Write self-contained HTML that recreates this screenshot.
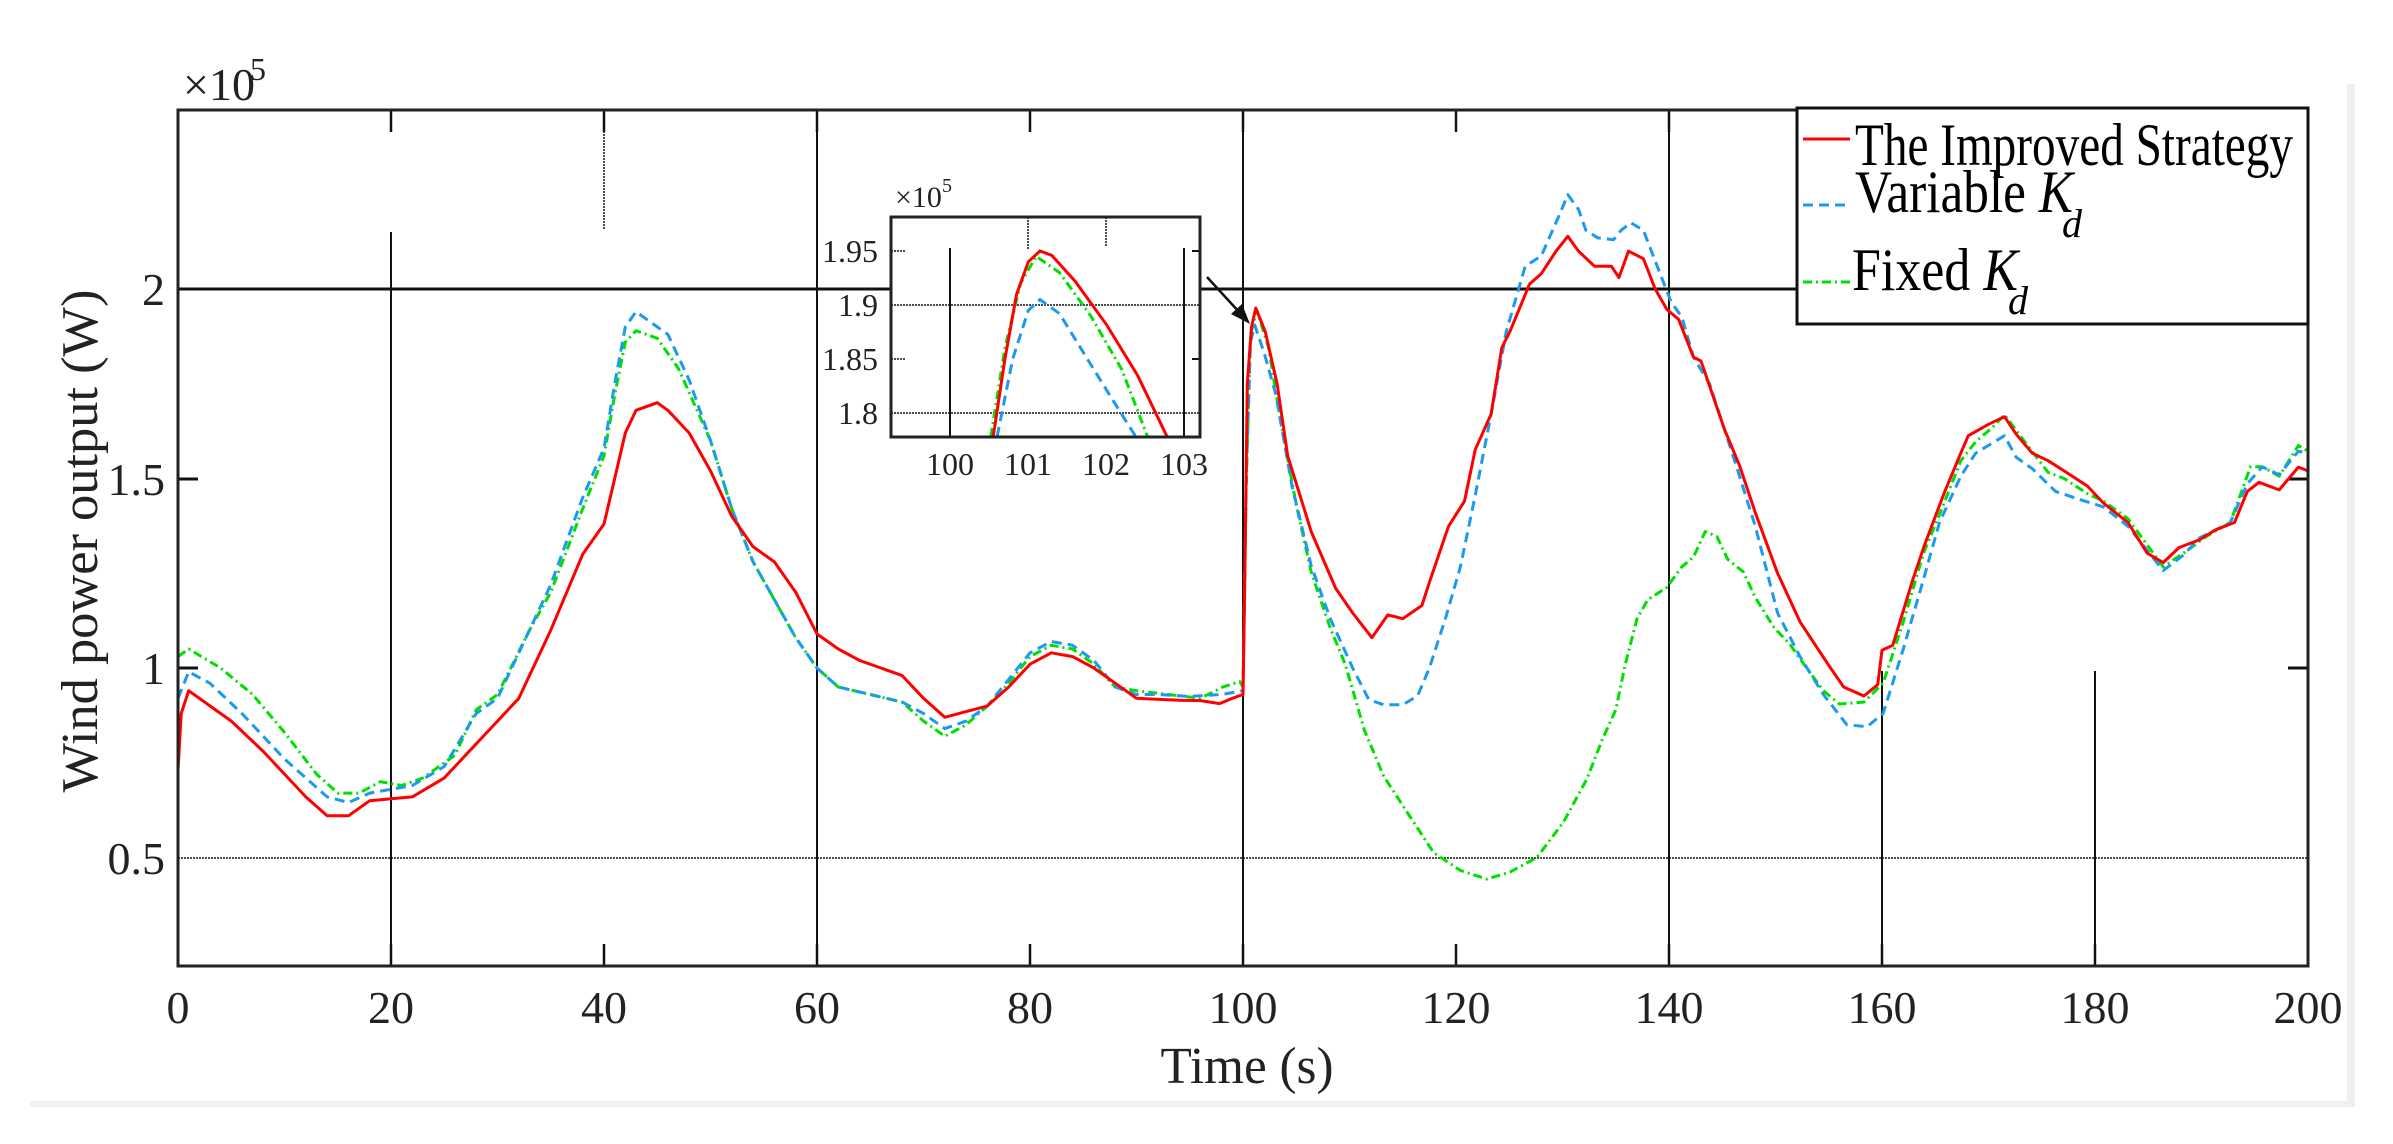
<!DOCTYPE html>
<html><head><meta charset="utf-8"><style>
html,body{margin:0;padding:0;background:#fff;}
svg{display:block;}
text{font-family:"Liberation Serif",serif;fill:#222;}
</style></head><body>
<svg id="s" width="2393" height="1144" viewBox="0 0 2393 1144" xmlns="http://www.w3.org/2000/svg">
<rect x="0" y="0" width="2393" height="1144" fill="#fff"/>
<rect x="30" y="1101" width="2325" height="6" fill="#efefef"/>
<rect x="2347" y="84" width="8" height="1022" fill="#efefef"/>
<g id="grid" stroke="#111" fill="none"></g>
<g id="curves" fill="none" stroke-linejoin="round"></g>
<rect x="178" y="110" width="2130" height="856" fill="none" stroke="#222" stroke-width="3"/>
<rect x="891" y="217" width="309" height="220" fill="#fff" stroke="none"/>
<g id="inset" fill="none"></g>
<rect x="891" y="217" width="309" height="220" fill="none" stroke="#222" stroke-width="3"/>
<line x1="1207" y1="277" x2="1240" y2="313" stroke="#111" stroke-width="2.5"/>
<polygon points="1250,324 1231,314 1242,304" fill="#111"/>
<rect x="1797" y="108" width="511" height="216" fill="#fff" stroke="#111" stroke-width="3"/>
<line x1="1803" y1="139" x2="1850" y2="139" stroke="#f00" stroke-width="3"/>
<line x1="1803" y1="205" x2="1850" y2="205" stroke="#1a9af0" stroke-width="3" stroke-dasharray="10,6"/>
<line x1="1803" y1="282" x2="1850" y2="282" stroke="#00e000" stroke-width="3" stroke-dasharray="9,4,2,4"/>
<text x="1855" y="165" font-size="60" textLength="438" lengthAdjust="spacingAndGlyphs" style="fill:#000">The Improved Strategy</text>
<text x="1855" y="212" font-size="60" textLength="218" lengthAdjust="spacingAndGlyphs" style="fill:#000">Variable <tspan font-style="italic">K</tspan></text>
<text x="2062" y="237" font-size="40" font-style="italic" style="fill:#000">d</text>
<text x="1852" y="290" font-size="60" textLength="166" lengthAdjust="spacingAndGlyphs" style="fill:#000">Fixed <tspan font-style="italic">K</tspan></text>
<text x="2008" y="314" font-size="40" font-style="italic" style="fill:#000">d</text>
<g font-size="46" text-anchor="middle">
<text x="178" y="1023">0</text><text x="391" y="1023">20</text><text x="604" y="1023">40</text><text x="817" y="1023">60</text><text x="1030" y="1023">80</text><text x="1243" y="1023">100</text><text x="1456" y="1023">120</text><text x="1669" y="1023">140</text><text x="1882" y="1023">160</text><text x="2095" y="1023">180</text><text x="2308" y="1023">200</text>
</g>
<g font-size="46" text-anchor="end">
<text x="165" y="305">2</text><text x="165" y="495">1.5</text><text x="165" y="684">1</text><text x="165" y="874">0.5</text>
</g>
<text x="1247" y="1083" font-size="52" text-anchor="middle" textLength="173" lengthAdjust="spacingAndGlyphs">Time (s)</text>
<text transform="translate(97,541) rotate(-90)" font-size="52" text-anchor="middle" textLength="503" lengthAdjust="spacingAndGlyphs">Wind power output (W)</text>
<text x="183" y="100" font-size="46">×10</text><text x="250" y="80" font-size="32">5</text>
<g font-size="32" text-anchor="end">
<text x="878" y="262">1.95</text><text x="878" y="316">1.9</text><text x="878" y="370">1.85</text><text x="878" y="424">1.8</text>
</g>
<g font-size="32" text-anchor="middle">
<text x="950" y="475">100</text><text x="1028" y="475">101</text><text x="1106" y="475">102</text><text x="1184" y="475">103</text>
</g>
<text x="895" y="207" font-size="30">×10</text><text x="942" y="192" font-size="20">5</text>
</svg>
<script>
const NS="http://www.w3.org/2000/svg";
function el(p,tag,a){const e=document.createElementNS(NS,tag);for(const k in a)e.setAttribute(k,a[k]);p.appendChild(e);return e;}
const X=t=>178+t*10.65, Y=P=>289+(2-P)*379;
const g=document.getElementById('grid');
el(g,'line',{x1:178,y1:289,x2:2308,y2:289,'stroke-width':3});
el(g,'line',{x1:178,y1:858,x2:2308,y2:858,'stroke-width':1.5,'stroke-dasharray':'2,1'});
[479,668].forEach(y=>{el(g,'line',{x1:178,y1:y,x2:198,y2:y,'stroke-width':3});el(g,'line',{x1:2288,y1:y,x2:2308,y2:y,'stroke-width':3});});
el(g,'line',{x1:391,y1:232,x2:391,y2:966,'stroke-width':2});
el(g,'line',{x1:604,y1:110,x2:604,y2:230,'stroke-width':1.5,'stroke-dasharray':'2,1'});
el(g,'line',{x1:817,y1:110,x2:817,y2:966,'stroke-width':2});
el(g,'line',{x1:1243,y1:110,x2:1243,y2:966,'stroke-width':2});
el(g,'line',{x1:1669,y1:110,x2:1669,y2:966,'stroke-width':2});
el(g,'line',{x1:1882,y1:671,x2:1882,y2:966,'stroke-width':2});
el(g,'line',{x1:2095,y1:671,x2:2095,y2:966,'stroke-width':2});
[178,391,604,817,1030,1243,1456,1669,1882,2095,2308].forEach(x=>{el(g,'line',{x1:x,y1:110,x2:x,y2:132,'stroke-width':2.5});el(g,'line',{x1:x,y1:944,x2:x,y2:966,'stroke-width':2.5});});

const red=[[0,0.73],[0.3,0.88],[1,0.94],[3,0.9],[5,0.86],[8,0.78],[10,0.72],[12,0.66],[14,0.61],[16,0.61],[18,0.65],[20,0.655],[22,0.66],[25,0.71],[28,0.8],[30,0.86],[32,0.92],[35,1.1],[38,1.3],[40,1.38],[41,1.5],[42,1.62],[43,1.68],[45,1.7],[46,1.68],[48,1.62],[50,1.52],[52,1.4],[54,1.32],[56,1.28],[58,1.2],[60,1.09],[62,1.05],[64,1.02],[66,1.0],[68,0.98],[70,0.92],[72,0.87],[74,0.885],[76,0.9],[78,0.95],[80,1.01],[82,1.04],[84,1.03],[86,1.0],[88,0.96],[90,0.92],[94,0.915],[96,0.914],[97.8,0.906],[99,0.92],[100,0.93],[100.15,1.2],[100.4,1.75],[100.8,1.9],[101.2,1.95],[102.1,1.886],[103.2,1.75],[104.2,1.56],[106.4,1.36],[108.7,1.21],[110.3,1.145],[112.1,1.08],[113.6,1.14],[115,1.13],[116.8,1.165],[117.5,1.226],[119.3,1.374],[120.8,1.44],[121.8,1.576],[123.3,1.67],[124.3,1.845],[125.1,1.89],[126.9,2.013],[128,2.04],[129.4,2.1],[130.5,2.139],[131.5,2.1],[133,2.06],[134.6,2.06],[135.3,2.03],[136.2,2.1],[137.6,2.08],[138.7,2.0],[139.8,1.946],[140.9,1.92],[142.3,1.82],[143,1.81],[145.2,1.63],[146.6,1.536],[148.1,1.41],[150.2,1.25],[152.3,1.122],[154.9,1.011],[156.4,0.95],[158.3,0.926],[159.6,0.956],[160,1.047],[161,1.06],[162.9,1.234],[164,1.325],[165.9,1.466],[167.4,1.567],[168.1,1.613],[170,1.643],[171.5,1.663],[172.6,1.617],[174.1,1.567],[175.6,1.547],[177.1,1.52],[179.3,1.48],[180.8,1.435],[183.1,1.384],[184.9,1.303],[186.4,1.278],[187.9,1.318],[189.8,1.338],[191.3,1.364],[193.1,1.384],[194.3,1.466],[195.4,1.49],[197.3,1.47],[199.1,1.53],[200,1.52]];
const blue=[[0,0.92],[1,0.99],[3,0.96],[6,0.88],[10,0.76],[14,0.66],[16,0.645],[18,0.67],[20,0.68],[22,0.69],[25,0.74],[28,0.88],[30,0.92],[33,1.1],[35,1.22],[38,1.45],[40,1.58],[41,1.75],[42,1.9],[43,1.94],[44,1.92],[46,1.88],[48,1.76],[50,1.6],[52,1.42],[54,1.28],[56,1.18],[58,1.08],[60,1.0],[62,0.95],[65,0.93],[68,0.91],[70,0.88],[72,0.84],[74,0.86],[76,0.9],[78,0.97],[80,1.04],[82,1.07],[84,1.06],[86,1.02],[88,0.95],[90,0.93],[92,0.93],[95,0.925],[98,0.93],[100,0.94],[100.3,1.5],[100.7,1.86],[101.1,1.905],[102,1.83],[103.1,1.72],[104.6,1.48],[106.4,1.27],[108.2,1.13],[110.3,1.0],[111.8,0.917],[113.2,0.903],[115,0.903],[116.4,0.927],[117.5,1.0],[119,1.13],[120.4,1.266],[121.8,1.455],[123.3,1.67],[124.7,1.886],[126.5,2.06],[128,2.087],[129.7,2.195],[130.5,2.249],[131.5,2.21],[132.2,2.155],[133.3,2.135],[134.8,2.13],[135.5,2.155],[136.4,2.175],[137.6,2.155],[138.7,2.074],[140.2,1.966],[141.2,1.926],[142.3,1.82],[143.8,1.75],[146.3,1.535],[148.1,1.374],[150.2,1.145],[152.3,1.03],[154.5,0.93],[156.7,0.85],[158.6,0.845],[160.1,0.88],[162,1.05],[163.9,1.234],[165.4,1.384],[167.4,1.506],[168.8,1.567],[171.5,1.613],[172.6,1.556],[174.1,1.526],[176.3,1.466],[178.5,1.445],[180.8,1.425],[183.1,1.374],[186.4,1.257],[188.3,1.298],[189.8,1.343],[192.7,1.384],[194.3,1.486],[195.7,1.531],[197.3,1.51],[199.1,1.572],[200,1.567]];
const green=[[0,1.03],[1,1.05],[4,1.0],[7,0.93],[10,0.83],[13,0.72],[15,0.67],[17,0.67],[19,0.7],[21,0.69],[23,0.71],[26,0.77],[28,0.89],[30,0.93],[33,1.1],[35,1.2],[38,1.42],[40,1.56],[41,1.72],[42,1.86],[43,1.89],[45,1.87],[47,1.79],[50,1.6],[52,1.42],[54,1.28],[56,1.18],[58,1.08],[60,1.0],[62,0.95],[65,0.93],[68,0.91],[70,0.86],[72,0.82],[74,0.85],[76,0.9],[78,0.96],[80,1.03],[82,1.06],[84,1.05],[86,1.01],[88,0.95],[90,0.94],[93,0.93],[96,0.92],[98.1,0.95],[99.7,0.964],[100,0.95],[100.3,1.48],[100.7,1.88],[101.3,1.945],[102.4,1.845],[103.5,1.657],[105,1.43],[106.4,1.253],[108.2,1.105],[109.6,1.01],[111.4,0.836],[113.2,0.715],[115.4,0.62],[117.9,0.513],[120.4,0.466],[122.9,0.443],[125.1,0.462],[127.6,0.5],[130.1,0.594],[132.3,0.708],[133.7,0.809],[135,0.89],[135.9,1.01],[137,1.13],[138,1.18],[139.8,1.213],[141.2,1.267],[142.3,1.293],[143.4,1.36],[144.5,1.347],[145.5,1.287],[147,1.253],[148.1,1.186],[149.9,1.105],[151.3,1.065],[152.3,1.024],[154.5,0.94],[156,0.905],[158.3,0.91],[160.1,0.96],[162,1.122],[163.9,1.303],[165.4,1.405],[167.4,1.547],[168.8,1.597],[170.3,1.633],[171.5,1.668],[173.4,1.597],[175.6,1.516],[177.1,1.5],[179.3,1.46],[180.8,1.44],[183.1,1.394],[186.4,1.267],[188.3,1.303],[190.5,1.348],[192.7,1.384],[194.6,1.531],[195.7,1.531],[197.3,1.506],[199.1,1.587],[200,1.572]];
const c=document.getElementById('curves');
function path(p,pts,fx,fy,attrs){el(p,'path',Object.assign({d:'M'+pts.map(q=>fx(q[0]).toFixed(1)+','+fy(q[1]).toFixed(1)).join('L')},attrs));}
path(c,green,X,Y,{stroke:'#00e000','stroke-width':3,'stroke-dasharray':'9,4,2,4'});
path(c,blue,X,Y,{stroke:'#1a9af0','stroke-width':3,'stroke-dasharray':'10,6'});
path(c,red,X,Y,{stroke:'#f00','stroke-width':3});
const ins=document.getElementById('inset');
const IX=t=>891+(t-99.24)*78, IY=P=>251+(1.95-P)*1080;
el(ins,'line',{x1:891,y1:305,x2:1200,y2:305,stroke:'#111','stroke-width':1.5,'stroke-dasharray':'2,1'});
el(ins,'line',{x1:891,y1:413,x2:1200,y2:413,stroke:'#111','stroke-width':1.5,'stroke-dasharray':'2,1'});
el(ins,'line',{x1:950,y1:248,x2:950,y2:437,stroke:'#111','stroke-width':2});
el(ins,'line',{x1:1184,y1:248,x2:1184,y2:437,stroke:'#111','stroke-width':2});
el(ins,'line',{x1:1028,y1:217,x2:1028,y2:250,stroke:'#111','stroke-width':1.5,'stroke-dasharray':'2,1'});
el(ins,'line',{x1:1106,y1:217,x2:1106,y2:247,stroke:'#111','stroke-width':1.5,'stroke-dasharray':'2,1'});
[251,359].forEach(y=>{el(ins,'line',{x1:891,y1:y,x2:905,y2:y,stroke:'#111','stroke-width':1.5,'stroke-dasharray':'2,1'});el(ins,'line',{x1:1192,y1:y,x2:1200,y2:y,stroke:'#111','stroke-width':2});});
const ir=[[100.55,1.778],[100.7,1.85],[100.85,1.91],[101.0,1.94],[101.15,1.95],[101.3,1.946],[101.6,1.922],[102,1.882],[102.4,1.835],[102.78,1.778]];
const ig=[[100.52,1.778],[100.7,1.86],[100.9,1.92],[101.1,1.945],[101.4,1.93],[101.8,1.89],[102.2,1.84],[102.53,1.778]];
const ib=[[100.6,1.778],[100.8,1.85],[101,1.895],[101.15,1.905],[101.4,1.892],[101.8,1.845],[102.1,1.81],[102.38,1.778]];
path(ins,ig,IX,IY,{stroke:'#00e000','stroke-width':3,'stroke-dasharray':'9,4,2,4'});
path(ins,ib,IX,IY,{stroke:'#1a9af0','stroke-width':3,'stroke-dasharray':'10,6'});
path(ins,ir,IX,IY,{stroke:'#f00','stroke-width':3});
</script>
</body></html>
